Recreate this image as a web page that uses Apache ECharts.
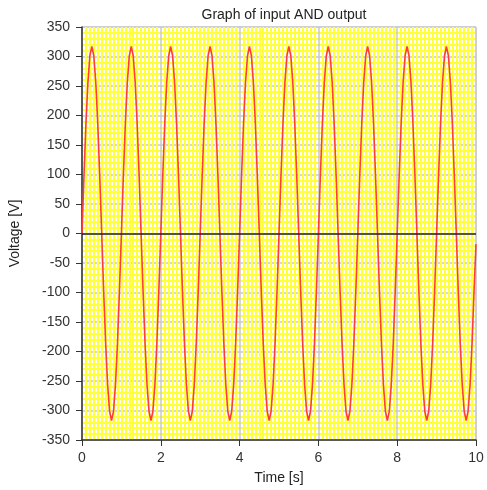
<!DOCTYPE html>
<html>
<head>
<meta charset="utf-8">
<script src="https://cdn.jsdelivr.net/npm/echarts@6/dist/echarts.min.js"></script>
<style>
html,body{margin:0;padding:0;background:#fff;}
#chart{width:487px;height:490px;}
</style>
</head>
<body>
<div id="chart"></div>
<script>
const titleText = "Graph of input AND output";
const xName = "Time [s]";
const yName = "Voltage [V]";
const xTicks = [0, 2, 4, 6, 8, 10];
const yTicks = [-350, -300, -250, -200, -150, -100, -50, 0, 50, 100, 150, 200, 250, 300, 350];
const sampleStep = 0.05; // seconds between samples
const voltage = [
  0, 98, 186, 256, 301, 317, 301, 256, 186, 98, 0, -98, -186, -256, -301, -317, -301, -256, -186, -98,
  0, 98, 186, 256, 301, 317, 301, 256, 186, 98, 0, -98, -186, -256, -301, -317, -301, -256, -186, -98,
  0, 98, 186, 256, 301, 317, 301, 256, 186, 98, 0, -98, -186, -256, -301, -317, -301, -256, -186, -98,
  0, 98, 186, 256, 301, 317, 301, 256, 186, 98, 0, -98, -186, -256, -301, -317, -301, -256, -186, -98,
  0, 98, 186, 256, 301, 317, 301, 256, 186, 98, 0, -98, -186, -256, -301, -317, -301, -256, -186, -98,
  0, 98, 186, 256, 301, 317, 301, 256, 186, 98, 0, -98, -186, -256, -301, -317, -301, -256, -186, -98,
  0, 98, 186, 256, 301, 317, 301, 256, 186, 98, 0, -98, -186, -256, -301, -317, -301, -256, -186, -98,
  0, 98, 186, 256, 301, 317, 301, 256, 186, 98, 0, -98, -186, -256, -301, -317, -301, -256, -186, -98,
  0, 98, 186, 256, 301, 317, 301, 256, 186, 98, 0, -98, -186, -256, -301, -317, -301, -256, -186, -98,
  0, 98, 186, 256, 301, 317, 301, 256, 186, 98, 0, -98, -186, -256, -301, -317, -301, -256, -186, -98,
  -18
];

const data = voltage.map((v, i) => [+(i * sampleStep).toFixed(2), v]);
const font = "Liberation Sans, Arial, sans-serif";

const chart = echarts.init(document.getElementById('chart'), null, {renderer: 'canvas'});
chart.setOption({
  animation: false,
  backgroundColor: '#fff',
  title: {
    text: titleText, left: 279, top: 3, textAlign: 'center',
    textStyle: {fontFamily: font, fontSize: 14, fontWeight: 'normal', color: '#222'}
  },
  grid: {left: 82, right: 11, top: 27, bottom: 48, show: true, backgroundColor: '#fff', borderColor: '#c8c8c8', borderWidth: 1},
  xAxis: {
    type: 'value', min: xTicks[0], max: xTicks[xTicks.length - 1], interval: 2,
    name: xName, nameLocation: 'middle', nameGap: 31,
    nameTextStyle: {fontFamily: font, fontSize: 14, color: '#222'},
    axisLine: {show: true, onZero: false, lineStyle: {color: '#333', width: 1.5}},
    axisTick: {show: true, length: 6, lineStyle: {color: '#333'}},
    axisLabel: {fontFamily: font, fontSize: 14, color: '#333', margin: 11},
    splitLine: {show: true, lineStyle: {color: '#c8c8c8', width: 1.5}},
    minorTick: {show: false, splitNumber: 20},
    minorSplitLine: {show: true, lineStyle: {color: '#ffff3c', width: 2}}
  },
  yAxis: {
    type: 'value', min: yTicks[0], max: yTicks[yTicks.length - 1], interval: 50,
    name: yName, nameLocation: 'middle', nameGap: 60,
    nameTextStyle: {fontFamily: font, fontSize: 14, color: '#222'},
    axisLine: {show: true, onZero: false, lineStyle: {color: '#333', width: 1.5}},
    axisTick: {show: true, length: 6, lineStyle: {color: '#333'}},
    axisLabel: {fontFamily: font, fontSize: 14, color: '#333', margin: 12},
    splitLine: {show: true, lineStyle: {color: '#c8c8c8', width: 1.5}},
    minorTick: {show: false, splitNumber: 5},
    minorSplitLine: {show: true, lineStyle: {color: '#ffff3c', width: 2}}
  },
  series: [{
    type: 'line', data: data, showSymbol: false, symbol: 'none',
    lineStyle: {color: '#ff3b3b', width: 1.6},
    markLine: {
      silent: true, symbol: 'none', label: {show: false},
      lineStyle: {color: '#222', width: 1.5, type: 'solid'},
      data: [{yAxis: 0}]
    },
    z: 3
  }]
});
</script>
</body>
</html>
